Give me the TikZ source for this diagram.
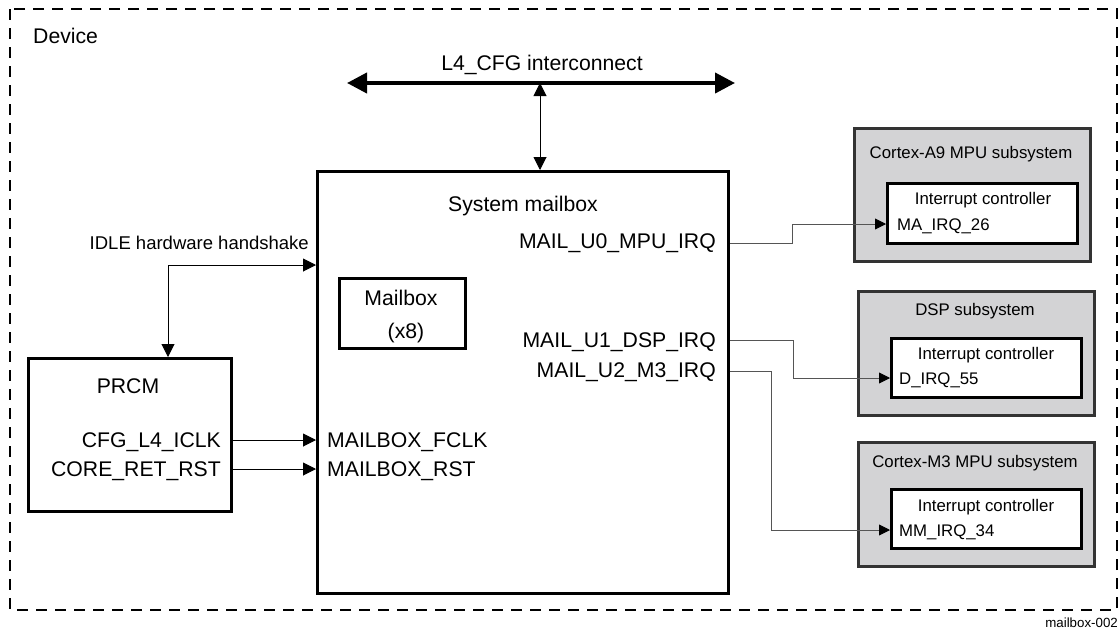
\documentclass[tikz,border=0pt]{standalone}
\usepackage{fontspec}
\setmainfont{Liberation Sans}
\usetikzlibrary{arrows.meta}
\definecolor{subgrey}{HTML}{D3D3D5}
\definecolor{subedge}{HTML}{333333}
\definecolor{wire}{HTML}{555555}
\begin{document}
\begin{tikzpicture}[x=1pt,y=-1pt,
  big/.style={font=\fontsize{21.2}{25}\selectfont, inner sep=0pt},
  mid/.style={font=\fontsize{18.5}{22}\selectfont, inner sep=0pt},
  small/.style={font=\fontsize{16.8}{20}\selectfont, inner sep=0pt},
  tiny/.style={font=\fontsize{13.3}{15}\selectfont, inner sep=0pt},
  blk/.style={draw, line width=3pt, anchor=north west, inner sep=0pt},
  subbox/.style={draw=subedge, line width=3pt, fill=subgrey, anchor=north west, inner sep=0pt},
  icbox/.style={draw, line width=3pt, fill=white, anchor=north west, inner sep=0pt},
  sig/.style={line width=1pt, -{Triangle[length=13pt,width=13pt]}},
  dsig/.style={line width=1pt, {Triangle[length=13pt,width=13pt]}-{Triangle[length=13pt,width=13pt]}},
  irq/.style={line width=0.9pt, draw=wire, -{Triangle[length=11pt,width=11pt,color=black]}},
  bus/.style={line width=4pt, {Triangle[length=20pt,width=20pt]}-{Triangle[length=20pt,width=20pt]}},
]
\useasboundingbox (0,0) rectangle (1120,635);
% device frame
\draw[line width=1.6pt, dash pattern=on 11pt off 8pt] (10,9) rectangle (1117,610);
\node[big, anchor=base west] (device) at (33,43) {Device};
\node[tiny, anchor=base east] (fig) at (1118,627) {mailbox-002};

% bus
\coordinate (busL) at (347,83);
\coordinate (busR) at (735,83);
\coordinate (busC) at (540,83);
\draw[bus] (busL) -- (busR);
\node[big, anchor=base] (l4) at (542,70) {L4\_CFG interconnect};

% system mailbox
\node[blk, minimum width=411pt, minimum height=422pt] (sysmb) at (316,170) {};
\draw[dsig] (busC) -- (sysmb.north -| busC);
\node[big, anchor=base] (systitle) at (523,211) {System mailbox};
\node[big, anchor=base east] (u0) at (716,248) {MAIL\_U0\_MPU\_IRQ};
\node[big, anchor=base east] (u1) at (716,347) {MAIL\_U1\_DSP\_IRQ};
\node[big, anchor=base east] (u2) at (716,377) {MAIL\_U2\_M3\_IRQ};
\node[big, anchor=base west] (fclk) at (327,447) {MAILBOX\_FCLK};
\node[big, anchor=base west] (rst) at (327,476) {MAILBOX\_RST};

% mailbox x8
\node[blk, minimum width=126pt, minimum height=70pt] (mbx) at (338,277) {};
\node[big, anchor=base] (mbxt) at (401,305) {Mailbox};
\node[big, anchor=base] (mbxn) at (406,338) {(x8)};

% PRCM
\node[blk, minimum width=203pt, minimum height=153pt] (prcm) at (27,357) {};
\node[big, anchor=base] (prcmt) at (128,393) {PRCM};
\node[big, anchor=base east] (iclk) at (221,447) {CFG\_L4\_ICLK};
\node[big, anchor=base east] (crst) at (221,476) {CORE\_RET\_RST};
\coordinate (iclky) at (0,440);
\coordinate (crsty) at (0,469);
\draw[sig] (prcm.east |- iclky) -- (sysmb.west |- iclky);
\draw[sig] (prcm.east |- crsty) -- (sysmb.west |- crsty);

% idle handshake
\coordinate (idle) at (168,265);
\draw[dsig] (prcm.north -| idle) |- (sysmb.west |- idle);
\node[mid, anchor=base east] (idlet) at (309,249) {IDLE hardware handshake};

% Cortex-A9
\node[subbox, minimum width=236pt, minimum height=133pt] (a9) at (853,127) {};
\node[small, anchor=base] (a9t) at (971,158) {Cortex-A9 MPU subsystem};
\node[icbox, minimum width=190pt, minimum height=60pt] (ica9) at (886,182) {};
\node[small, anchor=base] (ica9t) at (983,204) {Interrupt controller};
\node[small, anchor=base west] (ma) at (897,230) {MA\_IRQ\_26};

% DSP
\node[subbox, minimum width=236pt, minimum height=124pt] (dsp) at (857,290) {};
\node[small, anchor=base] (dspt) at (975,315) {DSP subsystem};
\node[icbox, minimum width=190pt, minimum height=59pt] (icdsp) at (890,337) {};
\node[small, anchor=base] (icdspt) at (986,359) {Interrupt controller};
\node[small, anchor=base west] (dirq) at (899,384) {D\_IRQ\_55};

% M3
\node[subbox, minimum width=236pt, minimum height=124pt] (m3) at (857,441) {};
\node[small, anchor=base] (m3t) at (975,467) {Cortex-M3 MPU subsystem};
\node[icbox, minimum width=190pt, minimum height=59pt] (icm3) at (890,488) {};
\node[small, anchor=base] (icm3t) at (986,511) {Interrupt controller};
\node[small, anchor=base west] (mmirq) at (899,536) {MM\_IRQ\_34};

% IRQ wires
\coordinate (u0y) at (0,243);
\coordinate (u1y) at (0,340);
\coordinate (u2y) at (0,371);
\coordinate (k0) at (792,243);
\coordinate (k1) at (793,340);
\coordinate (k2) at (771,371);
\coordinate (t0) at (0,224);
\coordinate (t1) at (0,378);
\coordinate (t2) at (0,530);
\draw[irq] (sysmb.east |- u0y) -- (k0) -- (k0 |- t0) -- (ica9.west |- t0);
\draw[irq] (sysmb.east |- u1y) -- (k1) -- (k1 |- t1) -- (icdsp.west |- t1);
\draw[irq] (sysmb.east |- u2y) -- (k2) -- (k2 |- t2) -- (icm3.west |- t2);
\end{tikzpicture}
\end{document}
